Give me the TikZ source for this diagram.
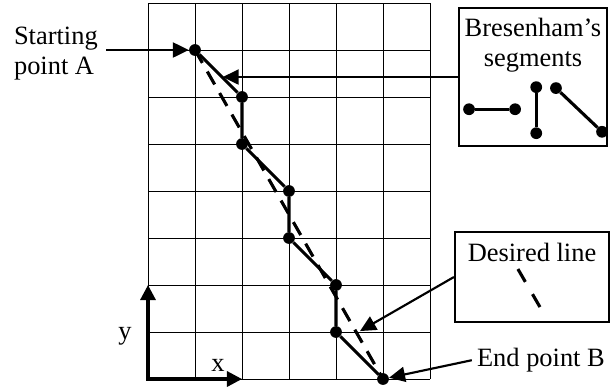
\documentclass[tikz,border=0pt]{standalone}
\usepackage{fontspec}
\setmainfont{Liberation Serif}
\usetikzlibrary{arrows.meta,calc}

\begin{document}
\begin{tikzpicture}[x=1cm,y=1cm,
    dotnode/.style={circle, fill=black, inner sep=0pt, minimum size=2.5mm},
    boxnode/.style={rectangle, draw=black, line width=1.2pt},
    textnode/.style={font=\fontsize{16}{18}\selectfont, align=center, inner sep=0pt}
    ]
    \tikzset{grid line/.style={line width=0.6pt}}
    \tikzset{seg/.style={line width=1.9pt}}
    \tikzset{ideal/.style={line width=1.9pt, dash pattern=on 9pt off 6pt}}
    \tikzset{pointer/.style={line width=1.3pt, -{Triangle[length=3.4mm,width=3.2mm]}}}
    \tikzset{axis/.style={line width=1.9pt, {Triangle[length=3.2mm,width=3.2mm]}-{Triangle[length=3.2mm,width=3.2mm]}}}
    \useasboundingbox (-3.149,-0.149) rectangle (9.957,8.064);
    %
    %grid
    %
    \draw[grid line] (0,0) grid (6,8);
    %
    %vertices
    %
    \node[dotnode] (p0) at (1,7) {};
    \node[dotnode] (p1) at (2,6) {};
    \node[dotnode] (p2) at (2,5) {};
    \node[dotnode] (p3) at (3,4) {};
    \node[dotnode] (p4) at (3,3) {};
    \node[dotnode] (p5) at (4,2) {};
    \node[dotnode] (p6) at (4,1) {};
    \node[dotnode] (p7) at (5,0) {};
    %
    \node[textnode, align=left, inner xsep=5pt] (starttext) at (-1.96,6.92) {Starting\\point A};
    \node[textnode, inner sep=3pt] (endtext) at (8.36,0.40) {End point B};
    \node[textnode] (ylabel) at (-0.49,0.91) {y};
    \node[textnode] (xlabel) at (1.49,0.28) {x};
    \coordinate (origin) at (0,0);
    \coordinate (yend) at (0,2);
    \coordinate (xend) at (2,0);
    %
    %legends
    %
    \node[boxnode, minimum width=3.15cm, minimum height=2.93cm] (bres) at (8.195,6.425) {};
    \node[textnode] (brestext) at (8.19,7.11) {Bresenham’s\\segments};
    \node[dotnode] (h0) at (6.83,5.74) {};
    \node[dotnode] (h1) at (7.81,5.74) {};
    \node[dotnode] (v0) at (8.26,6.21) {};
    \node[dotnode] (v1) at (8.26,5.23) {};
    \node[dotnode] (d0) at (8.68,6.19) {};
    \node[dotnode] (d1) at (9.66,5.26) {};
    \coordinate (brestip) at (1.59,6.425);
    %
    \node[boxnode, minimum width=3.28cm, minimum height=1.92cm] (desired) at (8.17,2.17) {};
    \node[textnode] (desiredtext) at (8.17,2.70) {Desired line};
    \coordinate (dash0) at (7.87,2.34);
    \coordinate (dash1) at (8.34,1.53);
    \coordinate (desiredtip) at (4.51,1.02);
    %
    %edges
    %
    \draw[ideal] (p0.center) -- (p7.center);
    \draw[seg] (p0) -- (p1) -- (p2) -- (p3) -- (p4) -- (p5) -- (p6) -- (p7);
    \draw[seg] (h0) -- (h1);
    \draw[seg] (v0) -- (v1);
    \draw[seg] (d0) -- (d1);
    \draw[ideal, dash pattern=on 9pt off 8.6pt] (dash0) -- (dash1);
    \draw[pointer] (starttext.east |- p0) -- (p0);
    \draw[pointer] (bres.west) -- (brestip);
    \draw[pointer] (desired.west) -- (desiredtip);
    \draw[pointer] (endtext.west) -- (p7);
    \draw[axis] (yend) -- (origin) -- (xend);
\end{tikzpicture}
\end{document}
